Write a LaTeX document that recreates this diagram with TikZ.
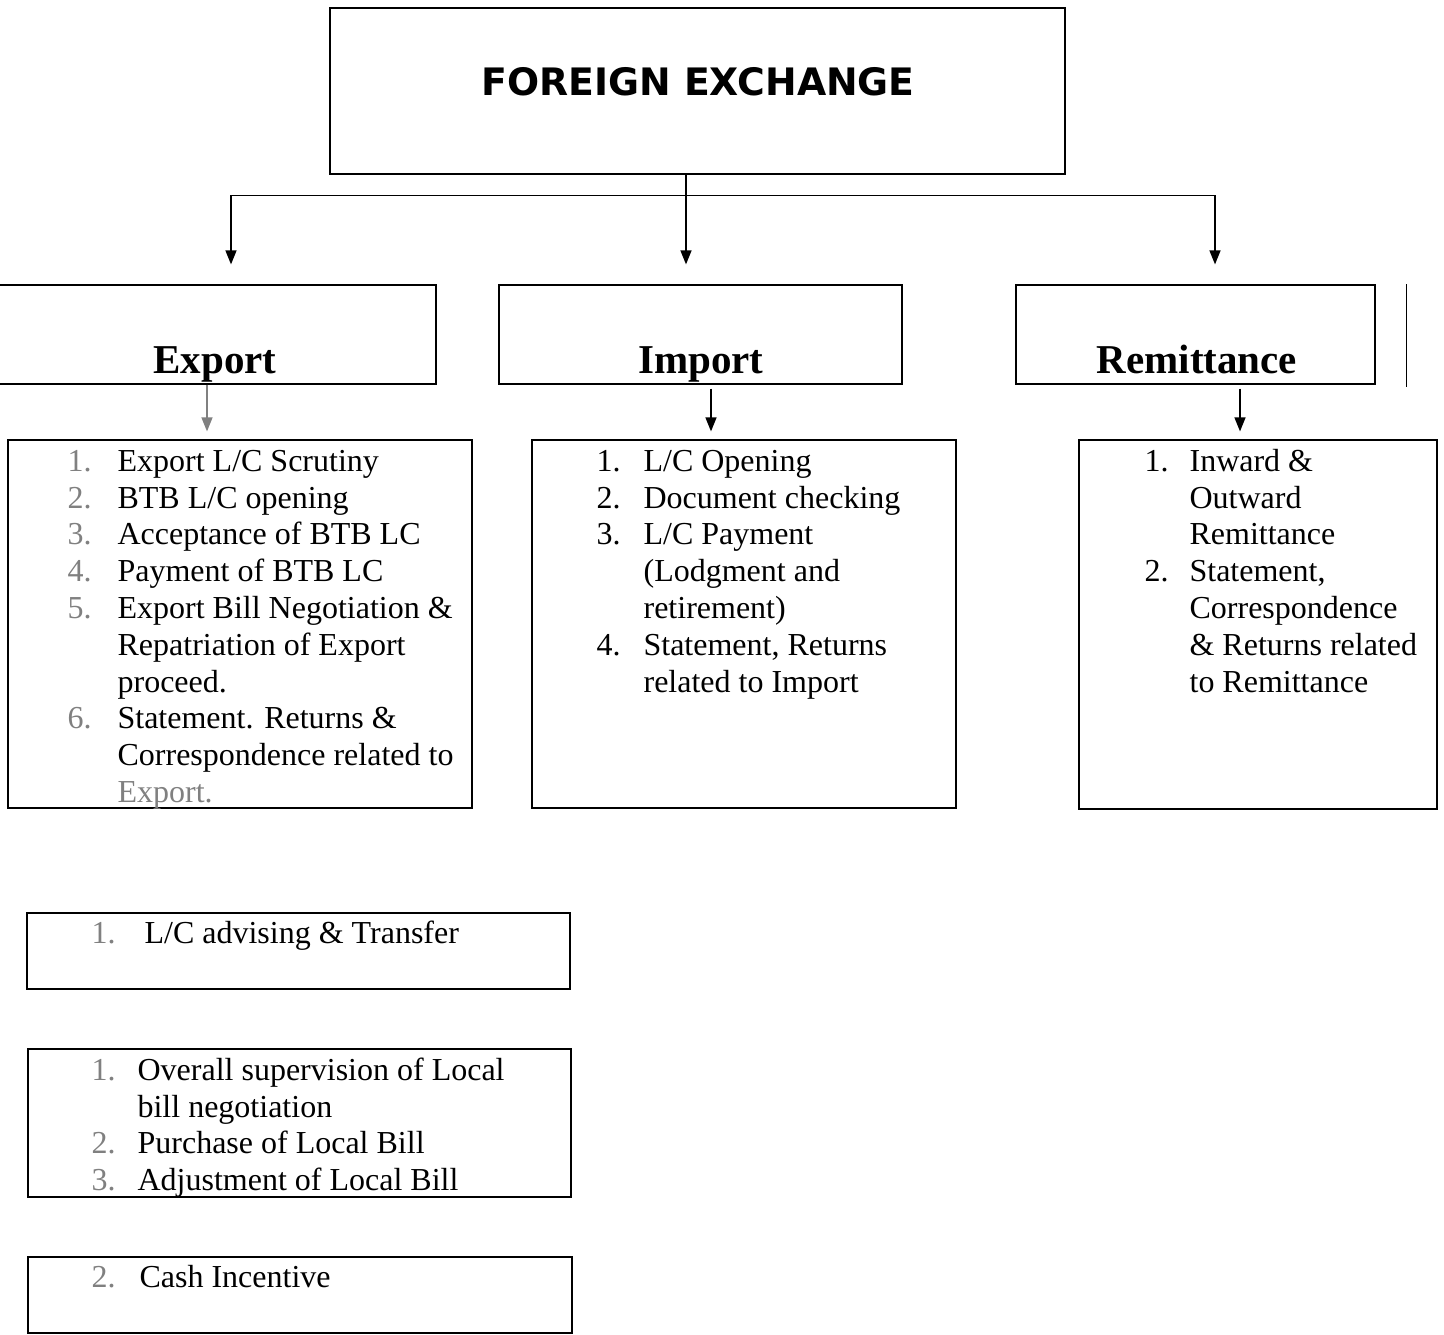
\documentclass[tikz,border=0pt]{standalone}
\usepackage{fontspec}
\setmainfont{Liberation Serif}
\newfontfamily\headfont{DejaVu Sans}
\usetikzlibrary{arrows.meta,positioning}
\definecolor{fade}{gray}{0.5}
\newcommand{\listfont}{\fontsize{32}{36.8}\selectfont}

\begin{document}
\begin{tikzpicture}[x=1pt,y=-1pt,
  box/.style={draw,line width=1.2pt,inner sep=0pt},
  title/.style={anchor=base,font=\fontsize{41}{48}\selectfont\bfseries},
  items/.style={inner sep=0pt,align=left,font=\listfont},
  line/.style={line width=1.4pt},
  arr/.style={line,-{Triangle[length=14pt,width=11pt]}},
]
\useasboundingbox (0,0) rectangle (1444,1335);

% head
\node[box,minimum width=735pt,minimum height=166pt] (fx) at (697.5,91) {};
\node[font=\headfont\fontsize{37.8}{44}\selectfont\bfseries] (fxtitle) at (698,82) {FOREIGN EXCHANGE};

% three sections
\node[box,minimum width=450pt,minimum height=99pt] (exp) at (211,334.5) {};
\node[box,minimum width=403pt,minimum height=99pt] (imp) at (700.5,334.5) {};
\node[box,minimum width=359pt,minimum height=99pt] (rem) at (1195.5,334.5) {};
\node[title] (exptitle) at (215,373) {Export};
\node[title] (imptitle) at (701,373) {Import};
\node[title] (remtitle) at (1197,373) {Remittance};

% duty lists
\node[box,minimum width=464pt,minimum height=368pt] (explist) at (240,624) {};
\node[box,minimum width=424pt,minimum height=368pt] (implist) at (744,624) {};
\node[box,minimum width=358pt,minimum height=369pt] (remlist) at (1258,624.5) {};

\node[items,below right=6pt and 60pt of explist.north west] (explines) {%
\begin{tabular}{@{}p{50pt}@{}l@{}}
\textcolor{fade}{1.} & Export L/C Scrutiny\\
\textcolor{fade}{2.} & BTB L/C opening\\
\textcolor{fade}{3.} & Acceptance of BTB LC\\
\textcolor{fade}{4.} & Payment of BTB LC\\
\textcolor{fade}{5.} & Export Bill Negotiation \&\\
 & Repatriation of Export\\
 & proceed.\\
\textcolor{fade}{6.} & Statement. Returns \&\\
 & Correspondence related to\\
 & \textcolor{fade}{Export.}
\end{tabular}};
\node[items,below right=6pt and 65pt of implist.north west] (implines) {%
\begin{tabular}{@{}p{47pt}@{}l@{}}
1. & L/C Opening\\
2. & Document checking\\
3. & L/C Payment\\
 & (Lodgment and\\
 & retirement)\\
4. & Statement, Returns\\
 & related to Import
\end{tabular}};
\node[items,below right=6pt and 66pt of remlist.north west] (remlines) {%
\begin{tabular}{@{}p{45pt}@{}l@{}}
1. & Inward \&\\
 & Outward\\
 & Remittance\\
2. & Statement,\\
 & Correspondence\\
 & \& Returns related\\
 & to Remittance
\end{tabular}};

% loose boxes
\node[box,minimum width=543pt,minimum height=76pt] (advbox) at (298.5,951) {};
\node[box,minimum width=543pt,minimum height=148pt] (locbox) at (299.5,1123) {};
\node[box,minimum width=544pt,minimum height=76pt] (cashbox) at (300,1295) {};

\node[items,below right=5pt and 65pt of advbox.north west] (advlines) {%
\begin{tabular}{@{}p{53pt}@{}l@{}}
\textcolor{fade}{1.} & L/C advising \& Transfer
\end{tabular}};
\node[items,below right=6pt and 64pt of locbox.north west] (loclines) {%
\begin{tabular}{@{}p{46pt}@{}l@{}}
\textcolor{fade}{1.} & Overall supervision of Local\\
 & bill negotiation\\
\textcolor{fade}{2.} & Purchase of Local Bill\\
\textcolor{fade}{3.} & Adjustment of Local Bill
\end{tabular}};
\node[items,below right=5pt and 64pt of cashbox.north west] (cashlines) {%
\begin{tabular}{@{}p{48pt}@{}l@{}}
\textcolor{fade}{2.} & Cash Incentive
\end{tabular}};

% connectors
\coordinate (split) at ([xshift=-11.5pt,yshift=-21pt]fx.south);
\draw[line] ([xshift=-11.5pt]fx.south) -- (split);
\draw[arr,shorten >=20pt] (split) -| ([xshift=20pt]exp.north);
\draw[arr,shorten >=20pt] (split) -- (split |- imp.north);
\draw[arr,shorten >=20pt] (split) -| ([xshift=19.5pt]rem.north);

\draw[arr,draw=fade,shorten >=8pt] ([xshift=-4pt]exp.south) -- ([xshift=-4pt]exp.south |- explist.north);
\draw[arr,shorten <=4pt,shorten >=8pt] ([xshift=10.5pt]imp.south) -- ([xshift=10.5pt]imp.south |- implist.north);
\draw[arr,shorten <=4pt,shorten >=8pt] ([xshift=44.5pt]rem.south) -- ([xshift=44.5pt]rem.south |- remlist.north);

\draw[line] ([xshift=31pt]rem.north east) -- ([xshift=31pt,yshift=-2pt]rem.south east);
\end{tikzpicture}
\end{document}
